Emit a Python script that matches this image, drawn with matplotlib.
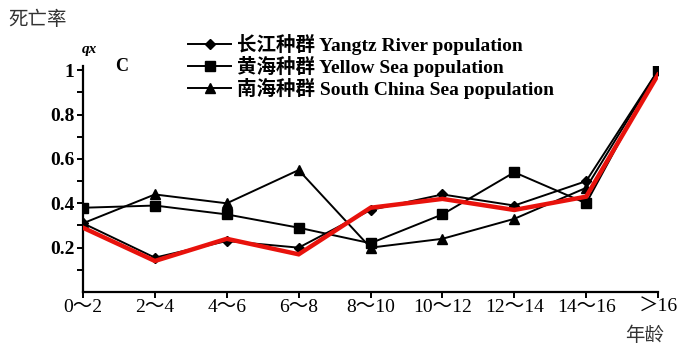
import numpy as np
import matplotlib.pyplot as plt

# age classes and mortality rate qx for each population
age_groups = ['0～2', '2～4', '4～6', '6～8', '8～10', '10～12', '12～14', '14～16', '＞16']
yangtze = [0.31, 0.155, 0.23, 0.20, 0.37, 0.44, 0.39, 0.50, 1.0]
yellow_sea = [0.38, 0.39, 0.35, 0.29, 0.22, 0.35, 0.54, 0.40, 1.0]
south_china = [0.31, 0.44, 0.40, 0.55, 0.20, 0.24, 0.33, 0.47, 1.0]
red_line = [0.29, 0.14, 0.24, 0.17, 0.38, 0.42, 0.37, 0.43, 0.98]

series_labels = ['长江种群 Yangtz River population',
                 '黄海种群 Yellow Sea population',
                 '南海种群 South China Sea population']

serif_cjk = ['Liberation Serif', 'Noto Sans CJK SC']

fig = plt.figure(figsize=(6.77, 3.49), dpi=100)
ax = fig.add_axes([0.1226, 0.1633, 0.8494, 0.648])

x = np.arange(len(age_groups))
ax.plot(x, yangtze, color='black', lw=1.4, marker='D', ms=5, label=series_labels[0])
ax.plot(x, yellow_sea, color='black', lw=1.4, marker='s', ms=7, label=series_labels[1])
ax.plot(x, south_china, color='black', lw=1.4, marker='^', ms=7, label=series_labels[2])
ax.plot(x, red_line, color='#e8120c', lw=3.2, solid_joinstyle='miter', zorder=5)

ax.set_xlim(0, 8)
ax.set_ylim(0, 1.02)
ax.spines['top'].set_visible(False)
ax.spines['right'].set_visible(False)
for s in ['left', 'bottom']:
    ax.spines[s].set_linewidth(1.6)

ax.set_xticks(x)
ax.set_xticklabels(age_groups, family=serif_cjk, fontsize=14)
ax.set_yticks([0.2, 0.4, 0.6, 0.8, 1.0])
ax.set_yticklabels(['0.2', '0.4', '0.6', '0.8', '1'], family='Liberation Serif',
                   fontsize=14, fontweight='bold')
ax.set_yticks(np.arange(0.1, 1.0, 0.2), minor=True)
ax.tick_params(axis='both', which='both', direction='out', length=4, width=1.4, pad=2)
ax.tick_params(axis='x', pad=1)

leg = ax.legend(loc='upper left', bbox_to_anchor=(0.183, 1.14), frameon=False,
                prop={'family': serif_cjk, 'size': 14, 'weight': 'bold'},
                handlelength=2.2, handletextpad=0.3, labelspacing=0.05,
                borderaxespad=0, borderpad=0)

fig.text(0.012, 0.945, '死亡率', family=['Noto Sans CJK SC'], fontsize=14,
         color='#333333', va='center')
fig.text(0.121, 0.858, 'qx', family='Liberation Serif', style='italic',
         fontweight='bold', fontsize=11, va='center')
fig.text(0.170, 0.81, 'C', family='Liberation Serif', fontweight='bold',
         fontsize=13, va='center')
fig.text(0.952, 0.04, '年龄', family=['Noto Sans CJK SC'], fontsize=14,
         color='#333333', va='center', ha='center')

fig.savefig('out.png', dpi=100)
